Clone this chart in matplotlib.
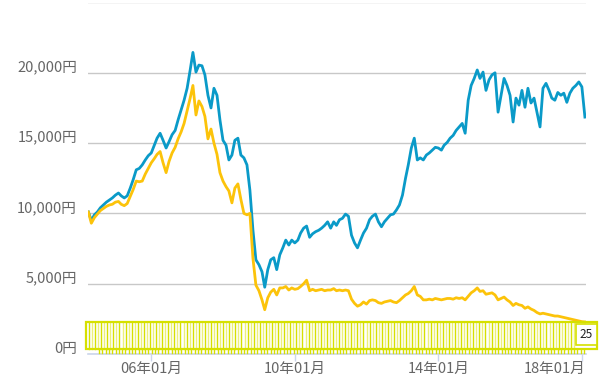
import matplotlib
matplotlib.use("Agg")
import matplotlib.pyplot as plt
import matplotlib.transforms as mtransforms
import pandas as pd
import numpy as np

plt.rcParams['font.family'] = ['Noto Sans CJK JP', 'DejaVu Sans']

# ---- data (monthly, 2004-04 .. 2018-02) ----
months = pd.date_range('2004-04-01', '2018-02-01', freq='MS')

blue_vals = [
    10100, 9500, 9900, 10100, 10400, 10600, 10800, 10950, 11100,
    11300, 11450, 11250, 11100, 11250, 11800, 12400, 13100, 13200, 13450, 13800, 14100,
    14300, 14850, 15350, 15700, 15200, 14650, 15100, 15600, 15900, 16650, 17350, 18050,
    18900, 20200, 21450, 20050, 20550, 20500, 19850, 18400, 17500, 18900, 18400, 16650,
    15200, 14850, 13800, 14150, 15200, 15350, 14150, 13950, 13450, 11650, 8800, 6700,
    6350, 5850, 4750, 6000, 6700, 6850, 6000, 7050, 7550, 8100, 7750, 8100,
    7900, 8100, 8600, 8950, 9100, 8300, 8550, 8700, 8800, 8950, 9150, 9400,
    8950, 9400, 9150, 9550, 9650, 9950, 9800, 8450, 7900, 7550, 8100, 8600,
    8950, 9550, 9800, 9950, 9400, 9050, 9400, 9650, 9900, 9950, 10250, 10600,
    11300, 12500, 13450, 14650, 15350, 13800, 13950, 13800, 14150, 14300, 14500, 14700,
    14650, 14500, 14850, 15050, 15350, 15550, 15900, 16150, 16400, 15700, 18050, 19100,
    19600, 20200, 19600, 20050, 18750, 19500, 19850, 20000, 17200, 18400, 19600, 19100,
    18400, 16500, 18200, 17700, 18750, 17550, 18900, 17850, 18200, 17200, 16150, 18900,
    19250, 18750, 18200, 18050, 18600, 18400, 18550, 17900, 18550, 18900, 19100, 19350,
    19000, 16850,
]

yellow_vals = [
    10100, 9300, 9700, 9950, 10200, 10350, 10500, 10600, 10650,
    10800, 10850, 10650, 10550, 10700, 11200, 11700, 12300, 12250, 12300, 12800, 13200,
    13600, 13900, 14200, 14400, 13600, 12900, 13700, 14300, 14700, 15300, 15800, 16400,
    17300, 18200, 19100, 17000, 18000, 17600, 16900, 15300, 16000, 15000, 14200, 12900,
    12300, 11900, 11600, 10750, 11800, 12100, 11000, 10000, 9900, 10000, 6800, 4900,
    4500, 3850, 3150, 4000, 4400, 4600, 4200, 4700, 4700, 4800, 4550, 4700,
    4600, 4650, 4800, 5000, 5250, 4500, 4600, 4500, 4550, 4600, 4500, 4550,
    4550, 4650, 4500, 4550, 4500, 4550, 4500, 3900, 3600, 3400, 3500, 3700,
    3550, 3800, 3850, 3800, 3650, 3600, 3700, 3750, 3800, 3700, 3650, 3800,
    4000, 4200, 4300, 4500, 4800, 4200, 4100, 3850, 3850, 3900, 3850, 3950,
    3900, 3850, 3900, 3950, 3950, 3900, 4000, 3950, 4000, 3850, 4100, 4350,
    4500, 4700, 4450, 4500, 4250, 4300, 4350, 4200, 3850, 3950, 4050, 3850,
    3700, 3450, 3600, 3500, 3450, 3250, 3350, 3200, 3100, 2950, 2850, 2900,
    2850, 2800, 2750, 2700, 2700, 2650, 2600, 2550, 2500, 2450, 2400, 2350,
    2300, 2280,
]

y_ticks = [0, 5000, 10000, 15000, 20000, 25000]
y_labels = ['0円', '5,000円', '10,000円', '15,000円', '20,000円', '']
x_tick_dates = ['2006-01-01', '2010-01-01', '2014-01-01', '2018-01-01']
x_tick_labels = ['06年01月', '10年01月', '14年01月', '18年01月']
navigator_label = '25'

# ---- figure ----
W, H = 606, 378
fig = plt.figure(figsize=(W / 100, H / 100), dpi=100)

def px_rect(x0, y0, x1, y1):
    return [x0 / W, 1 - y1 / H, (x1 - x0) / W, (y1 - y0) / H]

ax = fig.add_axes(px_rect(88, 2.5, 586, 354))

ax.plot(months, blue_vals, color='#0a9ac8', lw=2.0, solid_joinstyle='round', zorder=3)
ax.plot(months, yellow_vals, color='#fcc30a', lw=2.0, solid_joinstyle='round', zorder=4)

x0 = pd.Timestamp('2004-03-28')
x1 = pd.Timestamp('2018-02-12')
ax.set_xlim(x0, x1)
ax.set_ylim(0, 25000)

ax.set_yticks(y_ticks)
ax.set_yticklabels(y_labels)
ax.grid(axis='y', color='#c8c8c8', lw=1.0)
ax.set_axisbelow(True)

for s in ['left', 'right', 'top']:
    ax.spines[s].set_visible(False)
ax.spines['bottom'].set_color('#ccd6eb')
ax.spines['bottom'].set_linewidth(1.2)

ax.tick_params(axis='y', length=0, pad=8, labelsize=10.5, labelcolor='#666666')
ax.tick_params(axis='x', length=5, width=1, color='#ccd6eb', pad=1,
               labelsize=10.5, labelcolor='#666666')
ax.set_xticks([pd.Timestamp(d) for d in x_tick_dates])
ax.set_xticklabels(x_tick_labels)

off = mtransforms.ScaledTranslation(0, 7 / 100, fig.dpi_scale_trans)
for lab in ax.get_yticklabels():
    lab.set_transform(lab.get_transform() + off)

# last x label is justified to stay inside the plot (as in the reference)
last = ax.get_xticklabels()[-1]
last.set_ha('right')
last.set_transform(last.get_transform() + mtransforms.ScaledTranslation(4 / 100, 0, fig.dpi_scale_trans))

# ---- navigator strip (decoration) ----
sax = fig.add_axes(px_rect(84, 320, 600, 356))
sax.set_xlim(84, 600)
sax.set_ylim(356, 320)
sax.axis('off')
sax.patch.set_alpha(0)

bright = '#d6e000'
pale = '#ecf07a'
xs = np.arange(89.0, 576.0, 3.05)
for i, xv in enumerate(xs):
    c = bright if (i % 4 in (0, 2)) else pale
    sax.plot([xv, xv], [322.5, 349], color=c, lw=1.0, zorder=2)
ts = np.arange(99.0, 586.0, 3.3)
for xv in ts:
    sax.plot([xv, xv], [349, 352.5], color=bright, lw=1.0, zorder=2)
sax.add_patch(plt.Rectangle((86, 322), 511, 27, fill=False, edgecolor=bright, lw=1.6, zorder=3))
sax.add_patch(plt.Rectangle((576, 323.5), 20.5, 21, facecolor='white', edgecolor=bright, lw=1.2, zorder=4))
sax.text(586.5, 334.5, navigator_label, ha='center', va='center', fontsize=8.5,
         color='#222222', zorder=5)

fig.savefig('out.png', dpi=100)
